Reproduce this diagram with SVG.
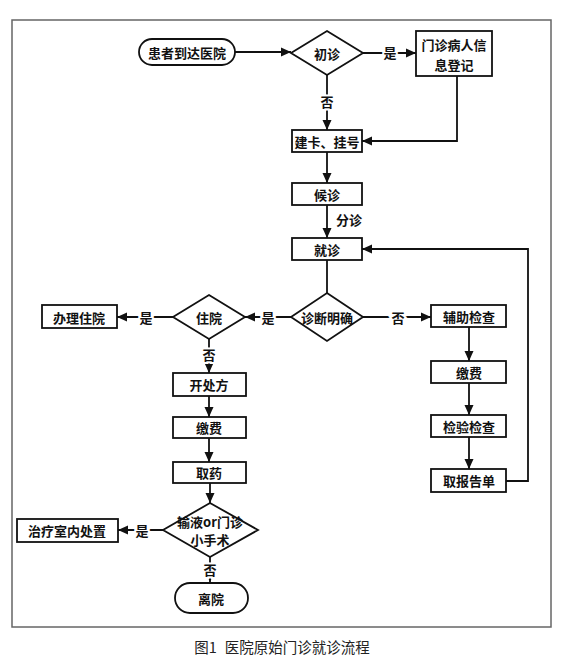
<svg xmlns="http://www.w3.org/2000/svg" width="562" height="666" viewBox="0 0 562 666">
<style>
.n{fill:#fff;stroke:#111;stroke-width:1.8}
.t{font-family:"Noto Sans CJK SC","Noto Sans",sans-serif;font-size:13px;font-weight:bold;fill:#111;text-anchor:middle;dominant-baseline:central}
.c{fill:none;stroke:#111;stroke-width:1.8}
.l{font-family:"Noto Sans CJK SC","Noto Sans",sans-serif;font-size:13px;font-weight:bold;fill:#111;text-anchor:middle;dominant-baseline:central;stroke:#fff;stroke-width:4;paint-order:stroke}
.cap{font-family:"Noto Sans CJK SC","Noto Sans",sans-serif;font-size:14.5px;fill:#222;text-anchor:middle;dominant-baseline:central}
</style>
<defs>
<marker id="a" viewBox="0 0 10 10" refX="10" refY="5" markerWidth="10" markerHeight="10" markerUnits="userSpaceOnUse" orient="auto">
<path d="M0,0.5 L10,5 L0,9.5 Z" fill="#111"/>
</marker>
</defs>
<rect x="0" y="0" width="562" height="666" fill="#fff"/>
<rect x="12" y="20" width="539" height="607" fill="none" stroke="#666" stroke-width="1.5"/>

<g id="connectors">
<path class="c" d="M235,52 H291" marker-end="url(#a)"/>
<path class="c" d="M363,53 H416" marker-end="url(#a)"/>
<path class="c" d="M327,75 V130" marker-end="url(#a)"/>
<path class="c" d="M457,76 V141 H362" marker-end="url(#a)"/>
<path class="c" d="M327,152 V183" marker-end="url(#a)"/>
<path class="c" d="M327,205 V238" marker-end="url(#a)"/>
<path class="c" d="M327,260 V293"/>
<path class="c" d="M292,317 H245" marker-end="url(#a)"/>
<path class="c" d="M173,317 H117" marker-end="url(#a)"/>
<path class="c" d="M363,317 H431" marker-end="url(#a)"/>
<path class="c" d="M209,339 V373" marker-end="url(#a)"/>
<path class="c" d="M209,396 V417" marker-end="url(#a)"/>
<path class="c" d="M209,438 V462" marker-end="url(#a)"/>
<path class="c" d="M210,483 V503" marker-end="url(#a)"/>
<path class="c" d="M163,530 H118" marker-end="url(#a)"/>
<path class="c" d="M210,557 V582" marker-end="url(#a)"/>
<path class="c" d="M469,327 V361" marker-end="url(#a)"/>
<path class="c" d="M469,383 V415" marker-end="url(#a)"/>
<path class="c" d="M469,437 V469" marker-end="url(#a)"/>
<path class="c" d="M506,481 H528 V249 H362" marker-end="url(#a)"/>
<text class="l" x="390" y="52">是</text>
<text class="l" x="327" y="101">否</text>
<text class="l" x="349" y="219">分诊</text>
<text class="l" x="268" y="317">是</text>
<text class="l" x="146" y="317">是</text>
<text class="l" x="398" y="317">否</text>
<text class="l" x="209" y="354">否</text>
<text class="l" x="142" y="530">是</text>
<text class="l" x="210" y="569">否</text>
</g>

<g id="start"><rect class="n" x="139" y="39" width="96" height="26" rx="13"/><text class="t" x="187" y="52">患者到达医院</text></g>
<g id="chuzhen"><path class="n" d="M327,31 L363,53 L327,75 L291,53 Z"/><text class="t" x="327" y="53">初诊</text></g>
<g id="dengji"><rect class="n" x="416" y="31" width="76" height="45"/><text class="t" x="454" y="44">门诊病人信</text><text class="t" x="454" y="64">息登记</text></g>
<g id="jianka"><rect class="n" x="292" y="130" width="70" height="22"/><text class="t" x="327" y="141">建卡、挂号</text></g>
<g id="houzhen"><rect class="n" x="292" y="183" width="70" height="22"/><text class="t" x="327" y="194">候诊</text></g>
<g id="jiuzhen"><rect class="n" x="292" y="238" width="70" height="22"/><text class="t" x="327" y="249">就诊</text></g>
<g id="zhenduan"><path class="n" d="M327,293 L363,317 L327,341 L291,317 Z"/><text class="t" x="327" y="317">诊断明确</text></g>
<g id="zhuyuan"><path class="n" d="M209,295 L245,317 L209,339 L173,317 Z"/><text class="t" x="209" y="317">住院</text></g>
<g id="banli"><rect class="n" x="42" y="305" width="75" height="23"/><text class="t" x="79" y="317">办理住院</text></g>
<g id="kaichufang"><rect class="n" x="173" y="373" width="73" height="23"/><text class="t" x="209" y="384">开处方</text></g>
<g id="jiaofei1"><rect class="n" x="173" y="417" width="73" height="21"/><text class="t" x="209" y="427">缴费</text></g>
<g id="quyao"><rect class="n" x="173" y="462" width="73" height="21"/><text class="t" x="209" y="472">取药</text></g>
<g id="shuye"><path class="n" d="M210,503 L258,530 L210,557 L163,530 Z"/><text class="t" x="210" y="521">输液or门诊</text><text class="t" x="210" y="539">小手术</text></g>
<g id="zhiliao"><rect class="n" x="17" y="519" width="101" height="23"/><text class="t" x="67" y="530">治疗室内处置</text></g>
<g id="liyuan"><rect class="n" x="175" y="583" width="73" height="30" rx="15"/><text class="t" x="211" y="598">离院</text></g>
<g id="fuzhu"><rect class="n" x="431" y="305" width="75" height="22"/><text class="t" x="469" y="316">辅助检查</text></g>
<g id="jiaofei2"><rect class="n" x="431" y="361" width="75" height="22"/><text class="t" x="469" y="372">缴费</text></g>
<g id="jianyan"><rect class="n" x="431" y="415" width="75" height="22"/><text class="t" x="469" y="426">检验检查</text></g>
<g id="baogao"><rect class="n" x="431" y="469" width="75" height="23"/><text class="t" x="469" y="480">取报告单</text></g>

<text class="cap" x="282" y="646">图1<tspan dx="8">医院原始门诊就诊流程</tspan></text>
</svg>
